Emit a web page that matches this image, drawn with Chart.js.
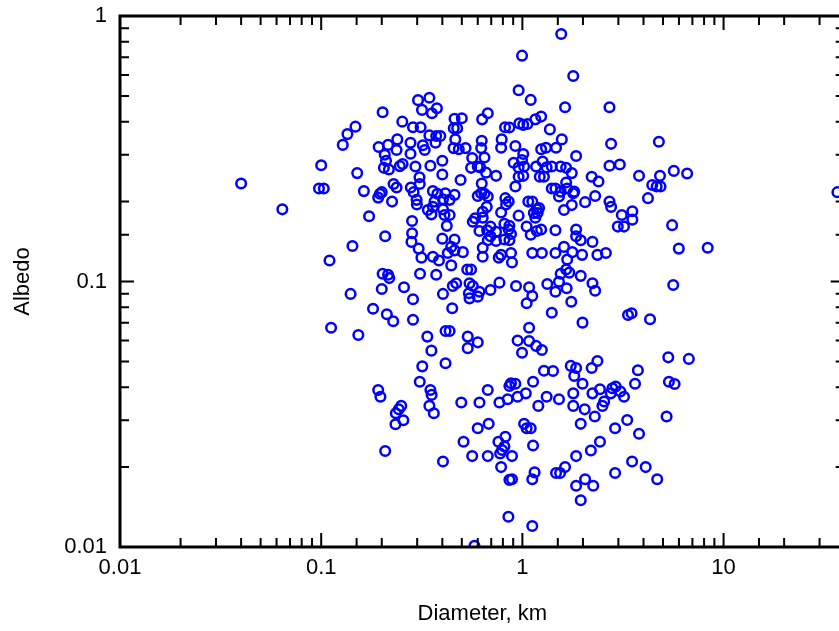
<!DOCTYPE html>
<html>
<head>
<meta charset="utf-8">
<title>Albedo vs Diameter</title>
<script src="https://cdn.jsdelivr.net/npm/chart.js@4.4.1/dist/chart.umd.min.js"></script>
<style>
  html, body { margin: 0; padding: 0; background: #fff; overflow: hidden; }
  #wrap { width: 852px; height: 631px; }
</style>
</head>
<body>
<div id="wrap"><canvas id="myChart" width="852" height="631"></canvas></div>
<script>
// Diametro (km) e albedo de cada objeto
const diameterKm = [
  0.0400, 0.0641, 0.110, 0.143, 0.173, 0.100, 0.0975, 0.103, 0.128, 0.135,
  0.148, 0.151, 0.163, 0.202, 0.193, 0.215, 0.239, 0.237, 0.207, 0.210,
  0.205, 0.217, 0.246, 0.254, 0.278, 0.278, 0.253, 0.286, 0.312, 0.303,
  0.345, 0.317, 0.355, 0.345, 0.320, 0.327, 0.294, 0.349, 0.229, 0.237,
  0.196, 0.192, 0.225, 0.279, 0.288, 0.308, 0.309, 0.298, 0.299, 0.339,
  0.353, 0.283, 0.283, 0.281, 0.305, 0.315, 0.208, 0.202, 0.215, 0.218,
  0.310, 0.359, 0.366, 0.359, 0.373, 0.200, 0.140, 0.112, 0.153, 0.181,
  0.200, 0.212, 0.228, 0.258, 0.286, 0.286, 0.337, 0.353, 0.318, 0.309,
  0.349, 0.354, 0.345, 0.363, 0.192, 0.197, 0.250, 0.243, 0.235, 0.256,
  0.234, 0.208, 1.56, 0.996, 1.79, 0.958, 1.10, 1.63, 2.71, 2.76,
  3.80, 2.71, 3.05, 0.376, 0.460, 0.500, 0.631, 0.673, 0.456, 0.474,
  0.820, 0.862, 0.966, 1.01, 1.06, 1.16, 1.24, 1.37, 1.57, 0.373,
  0.391, 0.370, 0.464, 0.455, 0.483, 0.522, 0.628, 0.624, 0.789, 0.784,
  0.923, 1.24, 1.31, 1.47, 1.85, 0.400, 0.400, 0.493, 0.563, 0.648,
  0.556, 0.600, 0.617, 0.660, 0.740, 0.905, 0.996, 1.01, 0.958, 1.02,
  1.01, 0.958, 0.923, 1.17, 1.26, 1.32, 1.22, 1.28, 1.40, 1.55,
  1.65, 1.76, 2.21, 2.39, 0.628, 1.40, 1.46, 1.52, 1.55, 1.65,
  1.67, 1.81, 1.79, 1.76, 1.61, 2.05, 2.30, 2.71, 2.76, 3.12,
  3.52, 3.52, 2.98, 3.20, 0.378, 0.414, 0.403, 0.435, 0.460, 0.600,
  0.624, 0.648, 0.673, 0.665, 0.635, 0.823, 0.855, 0.830, 0.784, 0.958,
  1.07, 1.12, 1.18, 1.21, 1.14, 1.19, 1.16, 0.359, 0.403, 0.435,
  0.410, 0.567, 0.582, 0.635, 0.421, 0.612, 0.668, 0.694, 0.740, 0.862,
  0.814, 0.855, 0.878, 0.814, 0.862, 0.740, 0.673, 0.694, 1.05, 1.10,
  1.18, 1.24, 1.46, 1.85, 1.85, 1.95, 2.23, 0.400, 0.460, 0.443,
  0.460, 0.506, 0.426, 0.385, 0.443, 0.635, 0.635, 0.763, 0.784, 0.878,
  0.888, 1.12, 1.25, 1.46, 1.61, 1.67, 1.77, 1.98, 2.36, 2.60,
  0.532, 0.556, 1.55, 1.65, 1.71, 1.95, 0.403, 0.451, 0.469, 0.546,
  0.567, 0.542, 0.546, 0.600, 0.612, 0.694, 0.769, 0.930, 1.08, 1.12,
  1.05, 1.33, 1.46, 1.52, 1.66, 1.75, 1.40, 1.99, 2.23, 2.30,
  3.35, 3.49, 0.448, 0.415, 0.435, 0.535, 0.535, 0.600, 0.415, 1.08,
  0.947, 0.996, 1.08, 1.17, 1.25, 1.28, 1.42, 1.74, 1.85, 1.81,
  2.21, 2.36, 1.99, 1.79, 2.23, 2.43, 2.50, 2.29, 2.04, 1.79,
  1.95, 1.52, 1.32, 1.20, 1.13, 1.04, 0.947, 0.878, 0.923, 0.862,
  0.845, 0.769, 0.673, 0.612, 0.497, 2.80, 3.07, 3.20, 2.75, 2.55,
  2.91, 3.63, 3.75, 3.32, 2.89, 3.80, 3.51, 2.89, 0.680, 0.600,
  0.510, 0.563, 0.673, 0.775, 0.784, 0.760, 0.823, 0.814, 0.793, 0.888,
  0.862, 0.888, 1.02, 1.05, 1.10, 1.13, 1.12, 1.15, 1.47, 1.54,
  1.63, 1.85, 2.19, 2.43, 1.85, 2.05, 2.25, 1.95, 0.852, 1.12,
  0.403, 0.578, 4.77, 4.83, 5.66, 6.59, 4.42, 4.65, 4.86, 4.21,
  5.55, 5.99, 8.34, 5.62, 36.8, 4.31, 5.31, 6.72, 5.35, 5.71,
  5.21, 4.10, 4.68
];

const albedo = [
  0.234, 0.187, 0.120, 0.136, 0.176, 0.274, 0.224, 0.224, 0.327, 0.359,
  0.383, 0.256, 0.219, 0.434, 0.321, 0.327, 0.343, 0.313, 0.300, 0.285,
  0.268, 0.264, 0.272, 0.277, 0.333, 0.303, 0.400, 0.381, 0.381, 0.482,
  0.492, 0.443, 0.430, 0.355, 0.326, 0.313, 0.271, 0.273, 0.233, 0.226,
  0.214, 0.207, 0.200, 0.226, 0.217, 0.247, 0.233, 0.203, 0.195, 0.186,
  0.179, 0.169, 0.152, 0.141, 0.133, 0.123, 0.148, 0.107, 0.106, 0.103,
  0.107, 0.219, 0.200, 0.124, 0.106, 0.217, 0.0898, 0.0670, 0.0629, 0.0790,
  0.0937, 0.0753, 0.0708, 0.0951, 0.0857, 0.0718, 0.0620, 0.0549, 0.0479, 0.0419,
  0.0390, 0.0374, 0.0340, 0.0319, 0.0390, 0.0368, 0.0340, 0.0330, 0.0319, 0.0300,
  0.0290, 0.0230, 0.856, 0.709, 0.594, 0.525, 0.483, 0.453, 0.453, 0.330,
  0.250, 0.273, 0.276, 0.449, 0.410, 0.412, 0.408, 0.430, 0.378, 0.378,
  0.381, 0.380, 0.394, 0.389, 0.392, 0.408, 0.418, 0.374, 0.343, 0.353,
  0.353, 0.333, 0.343, 0.318, 0.315, 0.318, 0.339, 0.318, 0.343, 0.319,
  0.324, 0.315, 0.319, 0.319, 0.297, 0.285, 0.253, 0.241, 0.292, 0.293,
  0.268, 0.271, 0.269, 0.257, 0.250, 0.280, 0.287, 0.302, 0.269, 0.271,
  0.250, 0.248, 0.228, 0.271, 0.283, 0.269, 0.248, 0.248, 0.271, 0.271,
  0.268, 0.256, 0.248, 0.238, 0.234, 0.224, 0.224, 0.209, 0.218, 0.236,
  0.224, 0.218, 0.215, 0.194, 0.186, 0.199, 0.210, 0.200, 0.191, 0.178,
  0.184, 0.171, 0.161, 0.161, 0.214, 0.215, 0.204, 0.203, 0.212, 0.210,
  0.215, 0.214, 0.209, 0.191, 0.183, 0.206, 0.200, 0.195, 0.182, 0.177,
  0.200, 0.200, 0.187, 0.189, 0.181, 0.181, 0.174, 0.191, 0.187, 0.178,
  0.178, 0.168, 0.173, 0.174, 0.162, 0.155, 0.156, 0.161, 0.154, 0.162,
  0.165, 0.157, 0.151, 0.144, 0.143, 0.142, 0.143, 0.148, 0.161, 0.150,
  0.155, 0.157, 0.156, 0.157, 0.148, 0.143, 0.141, 0.145, 0.144, 0.135,
  0.131, 0.129, 0.128, 0.120, 0.115, 0.134, 0.124, 0.123, 0.126, 0.128,
  0.118, 0.128, 0.128, 0.128, 0.135, 0.121, 0.129, 0.126, 0.126, 0.128,
  0.111, 0.111, 0.107, 0.111, 0.108, 0.105, 0.0898, 0.0962, 0.0985, 0.0985,
  0.0962, 0.0903, 0.0864, 0.0877, 0.0915, 0.0929, 0.0990, 0.0962, 0.0951, 0.0882,
  0.0828, 0.0979, 0.0915, 0.0998, 0.0943, 0.0839, 0.0763, 0.0700, 0.0985, 0.0923,
  0.0748, 0.0759, 0.0793, 0.0651, 0.0651, 0.0620, 0.0561, 0.0590, 0.0492, 0.0670,
  0.0599, 0.0539, 0.0597, 0.0572, 0.0552, 0.0461, 0.0460, 0.0481, 0.0472, 0.0441,
  0.0472, 0.0502, 0.0412, 0.0379, 0.0379, 0.0393, 0.0340, 0.0310, 0.0330, 0.0340,
  0.0291, 0.0360, 0.0368, 0.0340, 0.0419, 0.0379, 0.0368, 0.0414, 0.0412, 0.0404,
  0.0360, 0.0350, 0.0390, 0.0350, 0.0350, 0.0396, 0.0385, 0.0368, 0.0379, 0.0353,
  0.0402, 0.0412, 0.0463, 0.0301, 0.0280, 0.0267, 0.0210, 0.0190, 0.0291, 0.0280,
  0.0249, 0.0220, 0.0220, 0.0225, 0.0200, 0.0249, 0.0260, 0.0239, 0.0232, 0.0220,
  0.0179, 0.0180, 0.0291, 0.0280, 0.0280, 0.0241, 0.0180, 0.0191, 0.0190, 0.0190,
  0.0200, 0.0220, 0.0231, 0.0249, 0.0170, 0.0180, 0.0170, 0.0150, 0.0130, 0.0120,
  0.0210, 0.0101, 0.336, 0.250, 0.261, 0.255, 0.231, 0.228, 0.228, 0.206,
  0.163, 0.133, 0.134, 0.0970, 0.217, 0.0721, 0.0518, 0.0511, 0.0419, 0.0411,
  0.0310, 0.0200, 0.0180
];

// Rotulos dos eixos
const xTickValues = [0.01, 0.1, 1, 10];
const xTickLabels = ['0.01', '0.1', '1', '10'];
const yTickValues = [0.01, 0.1, 1];
const yTickLabels = ['0.01', '0.1', '1'];

const fontFamily = "Arial, 'Liberation Sans', sans-serif";

function labelFor(values, labels) {
  return function(value) {
    const i = values.findIndex(v => Math.abs(v - value) / v < 1e-6);
    return i >= 0 ? labels[i] : '';
  };
}

function isDecade(v) {
  const l = Math.log10(v);
  return Math.abs(l - Math.round(l)) < 1e-6;
}

// Moldura com tracos para dentro nos quatro lados
const frameTicks = {
  id: 'frameTicks',
  afterDatasetsDraw(chart) {
    const { ctx, chartArea: a, scales: { x, y } } = chart;
    ctx.save();
    ctx.strokeStyle = '#000';
    ctx.lineWidth = 2;
    ctx.beginPath();
    x.ticks.forEach(t => {
      const px = x.getPixelForValue(t.value);
      const len = isDecade(t.value) ? 14 : 9;
      ctx.moveTo(px, a.bottom); ctx.lineTo(px, a.bottom - len);
      ctx.moveTo(px, a.top); ctx.lineTo(px, a.top + len);
    });
    y.ticks.forEach(t => {
      const py = y.getPixelForValue(t.value);
      const len = isDecade(t.value) ? 14 : 9;
      ctx.moveTo(a.left, py); ctx.lineTo(a.left + len, py);
      ctx.moveTo(a.right, py); ctx.lineTo(a.right - len, py);
    });
    ctx.stroke();
    ctx.lineWidth = 3;
    ctx.strokeRect(a.left, a.top, a.right - a.left, a.bottom - a.top);
    ctx.restore();
  }
};

const points = diameterKm.map((d, i) => ({ x: d, y: albedo[i] }));

const ctx = document.getElementById('myChart').getContext('2d');
const myChart = new Chart(ctx, {
  type: 'scatter',
  data: {
    datasets: [{
      label: 'Albedo',
      data: points,
      pointStyle: 'circle',
      pointRadius: 4.8,
      pointBorderWidth: 2.5,
      pointBorderColor: '#0000ff',
      pointBackgroundColor: 'rgba(0,0,0,0)',
      showLine: false
    }]
  },
  options: {
    responsive: false,
    animation: false,
    layout: { padding: { left: 0, top: 16, right: 6, bottom: 0 } },
    plugins: {
      legend: { display: false },
      tooltip: { enabled: false }
    },
    scales: {
      x: {
        type: 'logarithmic',
        position: 'bottom',
        min: 0.01,
        max: 40,
        grid: { display: false, drawTicks: false },
        border: { display: false },
        ticks: {
          autoSkip: false,
          maxRotation: 0,
          padding: 8,
          color: '#000',
          font: { family: fontFamily, size: 22 },
          callback: labelFor(xTickValues, xTickLabels)
        },
        title: {
          display: true,
          text: 'Diameter, km',
          color: '#000',
          padding: 4,
          font: { family: fontFamily, size: 22 }
        },
        afterFit(scale) {
          scale.height = 84;
          scale.paddingLeft = 0;
          scale.paddingRight = 0;
        }
      },
      y: {
        type: 'logarithmic',
        position: 'left',
        min: 0.01,
        max: 1,
        grid: { display: false, drawTicks: false },
        border: { display: false },
        ticks: {
          autoSkip: false,
          padding: 13,
          color: '#000',
          font: { family: fontFamily, size: 22 },
          callback: labelFor(yTickValues, yTickLabels)
        },
        title: {
          display: true,
          text: 'Albedo',
          color: '#000',
          padding: 10,
          font: { family: fontFamily, size: 22 }
        },
        afterFit(scale) {
          scale.width = 120;
          scale.paddingTop = 0;
          scale.paddingBottom = 0;
        }
      }
    }
  },
  plugins: [frameTicks]
});
</script>
</body>
</html>
